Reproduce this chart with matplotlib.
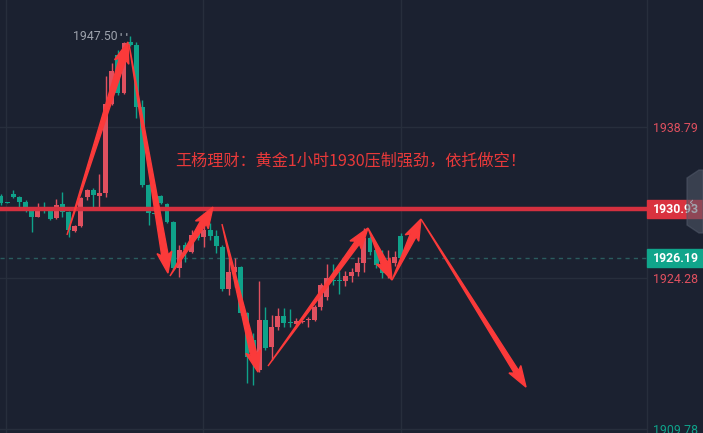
import matplotlib
matplotlib.use('Agg')
import matplotlib.pyplot as plt
import numpy as np
from matplotlib.patches import Polygon, Rectangle
from matplotlib.transforms import IdentityTransform

plt.rcParams['font.family'] = ['Noto Sans CJK SC', 'DejaVu Sans']

# 1h gold candles
opens = [1932.16, 1931.55, 1932.35, 1932.07, 1931.59, 1930.91, 1930.15, 1930.93, 1930.82, 1930.05,
         1931.39, 1930.62, 1928.80, 1929.28, 1932.07, 1932.74, 1932.16, 1932.45, 1941.00, 1945.71,
         1942.06, 1946.96, 1946.67, 1940.71, 1933.22, 1930.48, 1932.16, 1931.39, 1929.66, 1925.24,
         1927.45, 1926.78, 1928.70, 1928.22, 1928.90, 1928.32, 1927.26, 1923.23, 1924.86, 1925.34,
         1920.92, 1918.33, 1915.45, 1920.25, 1917.66, 1919.58, 1920.63, 1920.00, 1919.86, 1920.03,
         1920.22, 1920.25, 1921.50, 1922.46, 1924.03, 1924.03, 1923.99, 1924.48, 1924.86, 1925.73,
         1928.13, 1926.97, 1925.53, 1925.05, 1925.73, 1928.32]
highs = [1932.35, 1931.59, 1932.74, 1932.16, 1931.78, 1931.01, 1931.49, 1931.59, 1930.91, 1931.87,
         1932.55, 1930.72, 1929.38, 1932.07, 1932.84, 1932.93, 1934.27, 1943.69, 1944.94, 1946.19,
         1946.96, 1947.50, 1946.96, 1941.38, 1933.31, 1930.53, 1932.26, 1931.49, 1929.76, 1927.45,
         1927.74, 1928.90, 1929.38, 1929.57, 1929.57, 1928.90, 1927.45, 1926.21, 1926.21, 1925.44,
         1921.02, 1919.00, 1923.99, 1921.50, 1920.73, 1921.40, 1921.40, 1921.31, 1920.44, 1920.12,
         1920.54, 1921.69, 1923.80, 1925.63, 1925.63, 1924.96, 1924.96, 1925.24, 1926.30, 1929.09,
         1928.32, 1927.16, 1926.97, 1926.97, 1926.88, 1928.61]
lows = [1931.30, 1931.45, 1931.97, 1931.10, 1930.62, 1928.70, 1930.15, 1930.53, 1929.85, 1929.95,
        1930.15, 1928.22, 1928.70, 1929.18, 1931.78, 1931.10, 1931.10, 1932.07, 1940.90, 1941.86,
        1941.96, 1946.57, 1939.65, 1933.03, 1929.38, 1930.38, 1931.39, 1929.57, 1925.05, 1924.38,
        1925.82, 1926.69, 1927.94, 1927.26, 1927.94, 1926.69, 1923.04, 1922.65, 1923.42, 1920.73,
        1914.20, 1914.01, 1915.25, 1917.37, 1916.41, 1919.29, 1919.58, 1919.58, 1919.67, 1919.99,
        1919.58, 1920.15, 1921.21, 1922.17, 1923.61, 1922.75, 1923.51, 1923.90, 1924.48, 1924.86,
        1926.49, 1925.24, 1924.28, 1924.28, 1925.44, 1926.11]
closes = [1931.49, 1931.49, 1932.07, 1931.59, 1931.01, 1930.15, 1930.91, 1930.89, 1929.95, 1931.30,
          1930.62, 1928.90, 1929.28, 1931.97, 1932.74, 1932.26, 1932.45, 1941.00, 1944.17, 1942.06,
          1946.86, 1946.67, 1940.71, 1933.22, 1930.53, 1930.43, 1931.49, 1929.66, 1925.24, 1926.97,
          1926.97, 1928.42, 1928.13, 1928.90, 1928.32, 1927.36, 1923.23, 1924.86, 1925.34, 1920.92,
          1916.70, 1916.41, 1920.25, 1917.57, 1919.58, 1920.63, 1919.96, 1919.96, 1920.15, 1920.08,
          1920.27, 1921.50, 1923.61, 1924.28, 1923.99, 1923.99, 1924.48, 1924.86, 1925.73, 1928.13,
          1926.78, 1925.53, 1924.76, 1925.73, 1926.30, 1926.19]

axis_ticks = [1938.79, 1924.28, 1909.78]
resist = 1930.93
last_price = 1926.19
peak_label = '1947.50'
title_text = '王杨理财：黄金1小时1930压制强劲，依托做空！'

# hand drawn arrows: (x0, y0, x1, y1) in candle index / price
arrows = [
    (10.73, 1928.42, 20.65, 1946.96),
    (20.81, 1946.76, 27.15, 1924.76),
    (27.48, 1924.48, 34.47, 1931.10),
    (35.93, 1929.47, 41.79, 1915.25),
    (43.41, 1915.83, 59.67, 1929.09),
    (59.67, 1929.09, 63.58, 1924.09),
    (63.58, 1924.09, 68.29, 1929.95),
    (68.29, 1929.95, 85.37, 1913.81),
]

BG = '#1b2130'
GRID = '#272e3c'
UP = '#e0505f'
DOWN = '#0fa28a'
ARROW = '#fb3a3a'

W, H = 703, 433
fig = plt.figure(figsize=(W / 100, H / 100), dpi=100)
fig.patch.set_facecolor(BG)
ax = fig.add_axes([0, 0, 647 / W, 1])
ax.set_facecolor(BG)
ax.set_xlim(-0.16, 105.04)
ax.set_ylim(1909.40, 1950.99)
ax.set_xticks([])
ax.set_yticks([])
for s in ['top', 'left', 'bottom']:
    ax.spines[s].set_visible(False)
ax.spines['right'].set_color(GRID)
ax.spines['right'].set_linewidth(1)

for g in axis_ticks:
    ax.axhline(g, color=GRID, lw=1, zorder=0)
for g in [0.8, 32.85, 65.05]:
    ax.axvline(g, color=GRID, lw=1, zorder=0)

for i in range(len(opens)):
    o, h, l, c = opens[i], highs[i], lows[i], closes[i]
    col = UP if c >= o else DOWN
    ax.vlines(i, l, h, color=col, lw=1, zorder=2)
    ax.bar(i, max(abs(c - o), 0.1), bottom=min(o, c), width=0.8, color=col, zorder=3)

ax.axhline(resist, color='#d4303f', lw=3.2, zorder=4)
ax.axhline(last_price, color='#2a5c5e', lw=1, ls=(0, (3, 3)), zorder=1)

ax.text(18.9, 1947.44, peak_label, color='#9ea3ad', fontsize=8.8,
        family=['Roboto', 'DejaVu Sans'], ha='right', va='center')
ax.plot([19.3, 20.6], [1947.75, 1947.75], color='#8a8f99', lw=2, ls=(0, (0.5, 1.5)))

ax.text(56.8, 1935.55, title_text, color='#e8393a', fontsize=11.6,
        ha='center', va='center', zorder=6)

# price scale
ytr = ax.get_yaxis_transform()
for g in axis_ticks:
    col = DOWN if g < 1915 else UP
    ax.text(1.009, g - 0.1, f'{g:.2f}', transform=ytr, color=col, fontsize=8.9,
            family=['Roboto', 'DejaVu Sans'], ha='left', va='center', clip_on=False)
for val, col in [(resist, '#d9323f'), (last_price, '#10a58b')]:
    ax.add_patch(Rectangle((1.0, val - 0.86), 0.09, 1.73, transform=ytr,
                           color=col, clip_on=False, zorder=5))
    ax.text(1.009, val - 0.05, f'{val:.2f}', transform=ytr, color='white', fontsize=8.9,
            family=['Roboto', 'DejaVu Sans'], weight='bold', ha='left', va='center',
            clip_on=False, zorder=6)

# little collapse tab on the right edge
tab = [(687, 178), (699, 170), (703, 170), (703, 233), (699, 233), (687, 225)]
fig.add_artist(Polygon([(x / W, 1 - y / H) for x, y in tab], closed=True,
                       transform=fig.transFigure, color='#525a6a', alpha=0.55, zorder=7))
fig.text(692 / W, 1 - 202 / H, '‹', color='#a8adb7', fontsize=9,
         family=['DejaVu Sans'], ha='center', va='center', zorder=8)


def fat_arrow(x0, y0, x1, y1, shaft=6.5, head_w=15, head_l=18):
    a = ax.transData.transform((x0, y0))
    b = ax.transData.transform((x1, y1))
    d = b - a
    u = d / np.hypot(*d)
    n = np.array([-u[1], u[0]])
    base = b - u * head_l
    pts = [a, base + n * shaft / 2, base + n * head_w / 2 - u * 3, b,
           base - n * head_w / 2 - u * 3, base - n * shaft / 2]
    fig.add_artist(Polygon(pts, closed=True, transform=IdentityTransform(),
                           color=ARROW, zorder=9))


for k, (x0, y0, x1, y1) in enumerate(arrows):
    if k in (4, 7):
        fat_arrow(x0, y0, x1, y1, shaft=5, head_w=14, head_l=18)
    else:
        fat_arrow(x0, y0, x1, y1)

fig.savefig('out.png', dpi=100, facecolor=BG)
